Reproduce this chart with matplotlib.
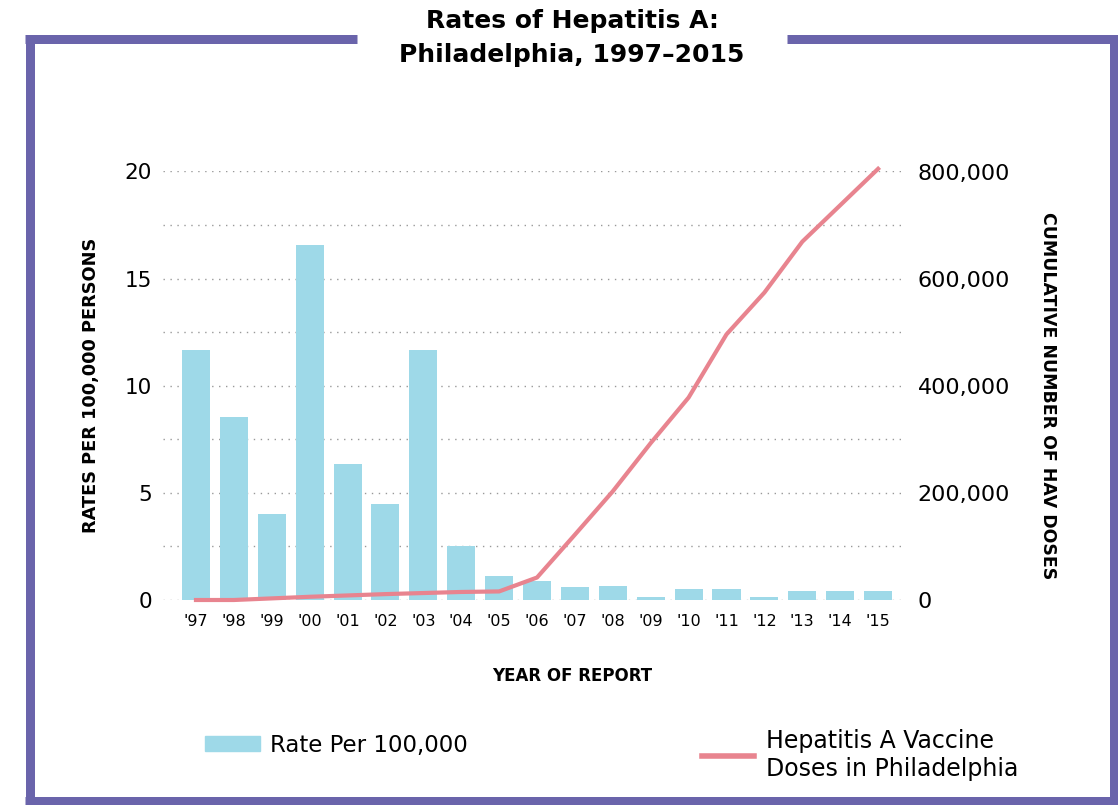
import numpy as np
import matplotlib.pyplot as plt
from matplotlib.lines import Line2D
from matplotlib.patches import Patch
from matplotlib.ticker import FuncFormatter, MultipleLocator

plt.rcParams['font.family'] = ['DejaVu Sans']

years = ["'97", "'98", "'99", "'00", "'01", "'02", "'03", "'04", "'05", "'06",
         "'07", "'08", "'09", "'10", "'11", "'12", "'13", "'14", "'15"]
rates = [11.65, 8.55, 4.0, 16.55, 6.35, 4.5, 11.65, 2.5, 1.1, 0.9,
         0.6, 0.65, 0.12, 0.5, 0.5, 0.12, 0.42, 0.42, 0.42]
doses = [0, 0, 3000, 6000, 8500, 11000, 13000, 15000, 16000, 42000,
         122000, 203000, 293000, 378000, 496000, 574000, 669000, 737000, 805000]

bar_color = "#9ed9e8"
line_color = "#e8848f"
frame_color = "#6a64ab"

fig = plt.figure(figsize=(11.18, 8.05), dpi=100)

# purple frame with a gap for the title
W, H = 1118, 805
def fx(p): return p / W
def fy(p): return 1 - p / H
lw_frame = 9 * 72 / 100
fig.add_artist(Line2D([fx(29.5), fx(29.5)], [fy(35), fy(805)], color=frame_color, lw=lw_frame, solid_capstyle="butt"))
fig.add_artist(Line2D([fx(1113.5), fx(1113.5)], [fy(35), fy(805)], color=frame_color, lw=lw_frame, solid_capstyle="butt"))
fig.add_artist(Line2D([fx(25), fx(1118)], [fy(800.5), fy(800.5)], color=frame_color, lw=lw_frame, solid_capstyle="butt"))
fig.add_artist(Line2D([fx(25), fx(357)], [fy(39.5), fy(39.5)], color=frame_color, lw=lw_frame, solid_capstyle="butt"))
fig.add_artist(Line2D([fx(787), fx(1118)], [fy(39.5), fy(39.5)], color=frame_color, lw=lw_frame, solid_capstyle="butt"))

fig.text(fx(572), fy(38), "Rates of Hepatitis A:\nPhiladelphia, 1997\u20132015",
         ha="center", va="center", fontsize=18, fontweight="bold", linespacing=1.5)

ax = fig.add_axes([fx(163), fy(600), fx(905) - fx(163), (600 - 171.5) / H])
x = np.arange(len(years))
ax.bar(x, rates, width=0.74, color=bar_color, zorder=2)
ax.set_xlim(-0.87, 18.71)
ax.set_ylim(0, 20)
ax.yaxis.set_major_locator(MultipleLocator(5))
ax.yaxis.set_minor_locator(MultipleLocator(2.5))
ax.grid(axis="y", which="both", color="#999999", linestyle=(0, (1, 4)), linewidth=1)
ax.set_axisbelow(True)
for s in ax.spines.values():
    s.set_visible(False)
ax.tick_params(axis="both", which="both", length=0)
ax.tick_params(axis="y", labelsize=15.5, pad=8)
ax.set_xticks(x)
ax.set_xticklabels(years, fontsize=11.5)
ax.tick_params(axis="x", pad=10)
ax.set_ylabel("RATES PER 100,000 PERSONS", fontsize=12.8, fontweight="bold")
ax.yaxis.set_label_coords((100 - 163) / 742, 0.5)
ax.set_xlabel("YEAR OF REPORT", fontsize=12, fontweight="bold")
ax.xaxis.set_label_coords((572 - 163) / 742, -(667 - 600) / 428.5)

ax2 = ax.twinx()
ax2.plot(x, doses, color=line_color, lw=3, clip_on=False, zorder=3)
ax2.set_ylim(0, 800000)
ax2.yaxis.set_major_locator(MultipleLocator(200000))
ax2.yaxis.set_major_formatter(FuncFormatter(lambda v, p: "{:,.0f}".format(v)))
for s in ax2.spines.values():
    s.set_visible(False)
ax2.tick_params(axis="y", length=0, labelsize=16, pad=9)
ax2.set_ylabel("CUMULATIVE NUMBER OF HAV DOSES", fontsize=12.5, fontweight="bold",
               rotation=-90, va="center")
ax2.yaxis.set_label_coords((1048 - 163) / 742, (600 - 396) / 428.5)

# legends
fig.legend(handles=[Patch(color=bar_color, label="Rate Per 100,000")],
           loc="center left", bbox_to_anchor=(fx(184), fy(745)), frameon=False,
           fontsize=16.5, handlelength=2.4, handleheight=0.6, handletextpad=0.45)
fig.legend(handles=[Line2D([0], [0], color=line_color, lw=4,
                           label="Hepatitis A Vaccine\nDoses in Philadelphia")],
           loc="center left", bbox_to_anchor=(fx(681), fy(755)), frameon=False,
           fontsize=17, handlelength=2.2, handletextpad=0.5)

fig.savefig("out.png", dpi=100)
